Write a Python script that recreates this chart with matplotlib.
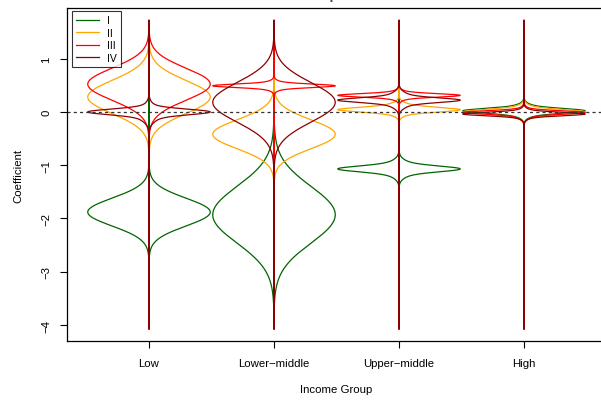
import matplotlib.pyplot as plt
import numpy as np

plt.rcParams['font.family'] = ['Liberation Sans', 'DejaVu Sans']

groups = ["Low", "Lower\u2212middle", "Upper\u2212middle", "High"]
series = ["I", "II", "III", "IV"]
colors = ["darkgreen", "orange", "red", "darkred"]

# kernel components for each bean: (centre, spread, weight), one list per income group
beans_I = [
    [(-1.88, 0.26, 1.0)],
    [(-1.93, 0.53, 1.0)],
    [(-1.07, 0.05, 0.5), (-1.07, 0.11, 0.5)],
    [(0.02, 0.04, 0.5), (0.02, 0.08, 0.5)],
]
beans_II = [
    [(0.28, 0.31, 1.0)],
    [(-0.42, 0.27, 1.0)],
    [(0.04, 0.04, 0.5), (0.05, 0.08, 0.5)],
    [(0.0, 0.04, 0.5), (0.0, 0.08, 0.5)],
]
beans_III = [
    [(0.52, 0.30, 1.0)],
    [(0.49, 0.03, 0.6), (0.49, 0.06, 0.4)],
    [(0.31, 0.03, 0.6), (0.31, 0.06, 0.4)],
    [(-0.01, 0.03, 0.6), (-0.03, 0.07, 0.4)],
]
beans_IV = [
    [(0.0, 0.05, 0.6), (-0.03, 0.12, 0.4)],
    [(0.18, 0.37, 1.0)],
    [(0.22, 0.04, 0.5), (0.22, 0.10, 0.5)],
    [(-0.04, 0.03, 0.6), (-0.04, 0.06, 0.4)],
]
all_beans = [beans_I, beans_II, beans_III, beans_IV]

y_lo, y_hi = -4.07, 1.72
half_width = 0.49


def bean_density(comps, y):
    d = np.zeros_like(y)
    for mu, sd, w in comps:
        d += w * np.exp(-0.5 * ((y - mu) / sd) ** 2) / sd
    return d / d.max()


fig = plt.figure(figsize=(6.01, 4.02), dpi=100)
ax = fig.add_axes([66.5 / 601, 60 / 402, 540 / 601, 333 / 402])

y = np.linspace(y_lo, y_hi, 1500)
for s in range(len(series)):
    for g in range(len(groups)):
        d = bean_density(all_beans[s][g], y) * half_width
        xs = np.concatenate([g + 1 - d, (g + 1 + d)[::-1]])
        ys = np.concatenate([y, y[::-1]])
        ax.plot(xs, ys, color=colors[s], lw=0.9)

ax.axhline(0, color='#333333', lw=0.9, dashes=(2.5, 2.5))

ax.set_xlim(0.34, 4.66)
ax.set_ylim(-4.30, 1.95)
ax.set_xticks([1, 2, 3, 4], groups)
ax.set_yticks(range(-4, 2), [str(v).replace('-', '\u2212') for v in range(-4, 2)])
for lab in ax.get_yticklabels():
    lab.set_rotation(90)
    lab.set_va('center')
ax.tick_params(direction='out', length=5, width=0.8, labelsize=8.2, colors='black')
ax.tick_params(axis='x', pad=7)
ax.tick_params(axis='y', pad=6)
for sp in ax.spines.values():
    sp.set_linewidth(0.9)

fig.text(336.5 / 601, 1 - 390 / 402, "Income Group", ha='center', va='center', fontsize=8.2)
fig.text(18 / 601, 1 - 176 / 402, "Coefficient", ha='center', va='center', rotation=90, fontsize=8.2)
# main title sits just above the saved area, only its lowest strokes show
fig.text(295 / 601, 1 + 0.5 / 402, "Income Groups", ha='center', va='baseline',
         fontsize=10, fontweight='bold', color='#444444')

leg = ax.legend([plt.Line2D([], [], color=c, lw=0.9) for c in colors], series,
                loc='upper left', bbox_to_anchor=(5 / 540, 1 - 3 / 333), fontsize=7.5,
                frameon=True, fancybox=False, edgecolor='black', handlelength=2.2,
                borderpad=0.4, labelspacing=0.25, handletextpad=0.8, borderaxespad=0)
leg.get_frame().set_linewidth(0.8)

fig.savefig("out.png", dpi=100)
